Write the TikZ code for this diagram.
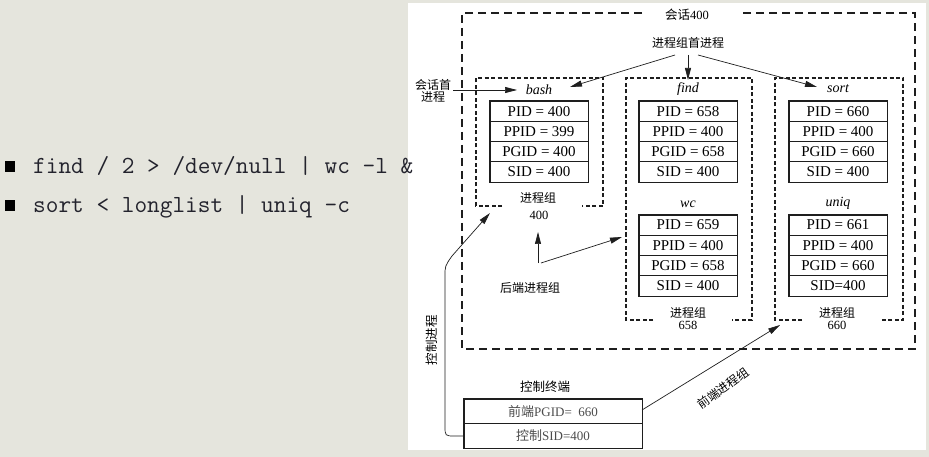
\documentclass[tikz,border=0pt]{standalone}
\usepackage{fontspec}
\setmainfont{Liberation Serif}
\newfontfamily\cjk{Noto Sans CJK SC}
\usetikzlibrary{arrows.meta}
\definecolor{bgcol}{RGB}{229,229,221}
\definecolor{ink}{RGB}{30,30,30}
\definecolor{cmdcol}{RGB}{35,35,45}
\newcommand{\fs}[1]{\fontsize{#1}{#1}\selectfont}
\tikzset{
  cell/.style={draw=ink, line width=0.6pt, minimum width=98pt, minimum height=20.25pt, inner sep=0pt, font=\fs{15}},
  tcell/.style={draw=ink, line width=0.6pt, minimum width=178pt, minimum height=24.5pt, inner sep=0pt, font=\fs{13}, text=black!70},
  tablebox/.style={draw=ink, line width=1.3pt},
  outerbox/.style={draw=ink, line width=1.3pt, dash pattern=on 8pt off 5pt},
  groupbox/.style={draw=ink, line width=1.1pt, dash pattern=on 4pt off 2.5pt},
  pname/.style={font=\fs{14}\itshape, inner sep=0pt},
  lbl/.style={font=\cjk\fs{12}, inner sep=0pt},
  num/.style={font=\fs{12.5}, inner sep=0pt},
  arr/.style={draw=ink, line width=0.7pt, -{Triangle[length=12pt,width=6pt]}},
  cmd/.style={anchor=base west, inner sep=0pt, font=\ttfamily\fs{24.6}, text=cmdcol}
}
\begin{document}
\begin{tikzpicture}[x=1pt,y=-1pt]
\useasboundingbox (0,0) rectangle (929,457);
\fill[bgcol] (0,0) rectangle (929,457);
\fill[white] (408,3) rectangle (926,450);

% left commands
\fill[black] (5,161) rectangle (15,172);
\fill[black] (5,200) rectangle (15,211);
\node[cmd] (cmd1) at (33,174) {find / 2 > /dev/null | wc -l \&};
\node[cmd] (cmd2) at (33,213) {sort < longlist | uniq -c};

% session
\draw[outerbox] (642,13) -- (462,13) -- (462,349) -- (915,349) -- (915,13) -- (740,13);
\node[font=\fs{12.5}, inner sep=0pt] (sess) at (687,15) {{\cjk 会话}400};

% process group boxes
\draw[groupbox] (502,206) -- (476,206) -- (476,78) -- (603,78) -- (603,206) -- (582,206);
\draw[groupbox] (653,320) -- (626,320) -- (626,78) -- (752,78) -- (752,320) -- (732,320);
\draw[groupbox] (802,320) -- (775,320) -- (775,78) -- (903,78) -- (903,320) -- (880,320);

\node[lbl] (g1) at (538,197.5) {进程组};
\node[num] (g1n) at (539,215) {400};
\node[lbl] (g2) at (688,313) {进程组};
\node[num] (g2n) at (688,325.5) {658};
\node[lbl] (g3) at (837,313) {进程组};
\node[num] (g3n) at (837,325.5) {660};

% process names
\node[pname] (nbash) at (539,90) {bash};
\node[pname] (nfind) at (688,89) {find};
\node[pname] (nsort) at (838,89) {sort};
\node[pname] (nwc) at (688,204) {wc};
\node[pname] (nuniq) at (838,203) {uniq};

% tables
\node[cell] (b1) at (539,111.1) {PID = 400};
\node[cell] (b2) at (539,131.4) {PPID = 399};
\node[cell] (b3) at (539,151.6) {PGID = 400};
\node[cell] (b4) at (539,171.9) {SID = 400};
\draw[tablebox] (b1.north west) rectangle (b4.south east);

\node[cell] (f1) at (688,111.1) {PID = 658};
\node[cell] (f2) at (688,131.4) {PPID = 400};
\node[cell] (f3) at (688,151.6) {PGID = 658};
\node[cell] (f4) at (688,171.9) {SID = 400};
\draw[tablebox] (f1.north west) rectangle (f4.south east);

\node[cell] (s1) at (838,111.1) {PID = 660};
\node[cell] (s2) at (838,131.4) {PPID = 400};
\node[cell] (s3) at (838,151.6) {PGID = 660};
\node[cell] (s4) at (838,171.9) {SID = 400};
\draw[tablebox] (s1.north west) rectangle (s4.south east);

\node[cell] (w1) at (688,225.1) {PID = 659};
\node[cell] (w2) at (688,245.4) {PPID = 400};
\node[cell] (w3) at (688,265.6) {PGID = 658};
\node[cell] (w4) at (688,285.9) {SID = 400};
\draw[tablebox] (w1.north west) rectangle (w4.south east);

\node[cell] (u1) at (838,225.1) {PID = 661};
\node[cell] (u2) at (838,245.4) {PPID = 400};
\node[cell] (u3) at (838,265.6) {PGID = 660};
\node[cell] (u4) at (838,285.9) {SID=400};
\draw[tablebox] (u1.north west) rectangle (u4.south east);

% leaders
\node[lbl] (lead) at (688,43) {进程组首进程};
\coordinate (leadL) at (675,55);
\coordinate (leadM) at (688,55);
\coordinate (leadR) at (698,55);
\coordinate (tipbash) at (570,87);
\coordinate (tipfind) at (688,80);
\coordinate (tipsort) at (817,87);
\draw[arr] (leadL) -- (tipbash);
\draw[arr] (leadM) -- (tipfind);
\draw[arr] (leadR) -- (tipsort);

\node[lbl, align=center, font=\cjk\fontsize{12}{12.5}\selectfont] (slead) at (433,91) {会话首\\进程};
\coordinate (sleadE) at (453,90);
\coordinate (tipsl) at (517,90);
\draw[arr] (sleadE) -- (tipsl);

% background groups
\node[lbl] (bgl) at (530,288) {后端进程组};
\coordinate (bgA) at (538,263);
\coordinate (bgB) at (541,263);
\coordinate (tipbgA) at (538,232);
\coordinate (tipbgB) at (622,237);
\draw[arr] (bgA) -- (tipbgA);
\draw[arr] (bgB) -- (tipbgB);

% controlling terminal
\node[lbl, font=\cjk\fs{12.5}] (ctl) at (545,387) {控制终端};
\node[tcell] (t1) at (553,411.5) {{\cjk 前端}PGID=~~660};
\node[tcell] (t2) at (553,436) {{\cjk 控制}SID=400};
\draw[tablebox] (t1.north west) rectangle (t2.south east);

% controlling process
\coordinate (tipctl) at (490,213);
\draw[arr] (t2.west) -- (455,436) .. controls (445,436) .. (445,426) -- (445,276) .. controls (445,266) .. (452,256) -- (tipctl);
\node[lbl, font=\cjk\fs{12.5}, rotate=90] (ctlp) at (432,340) {控制进程};

% foreground group
\coordinate (fgS) at (642,410);
\coordinate (tipfg) at (780,325);
\draw[arr] (fgS) -- (tipfg);
\node[lbl, rotate=36] (fgl) at (723,388) {前端进程组};
\end{tikzpicture}
\end{document}
